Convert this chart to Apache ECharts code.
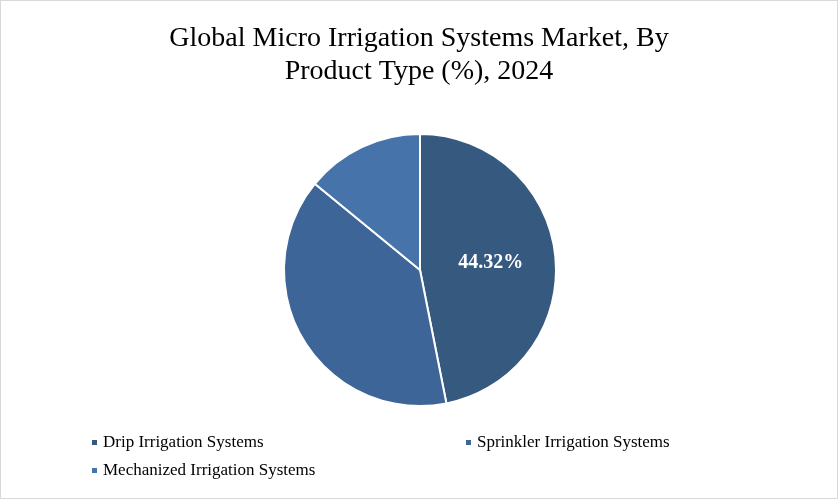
<!DOCTYPE html>
<html><head><meta charset="utf-8">
<script src="https://cdn.jsdelivr.net/npm/echarts@6/dist/echarts.min.js"></script>
<style>html,body{margin:0;padding:0;background:#fff}#c{width:836px;height:497px;border:1px solid #d9d9d9}</style>
</head><body><div id="c"></div>
<script>
const categories = ["Drip Irrigation Systems","Sprinkler Irrigation Systems","Mechanized Irrigation Systems"];
const values = [44.32, 36.9, 13.3];
const colors = ["#36597f","#3e6598","#4674aa"];
const shownLabels = ["44.32%","",""];
const chart = echarts.init(document.getElementById('c'));
const font = '"Liberation Serif","DejaVu Serif",serif';
const legPos = [[84,428],[458,428],[84,456]];
chart.setOption({
  title:{text:"Global Micro Irrigation Systems Market, By\nProduct Type (%), 2024",left:'center',top:16,
    textStyle:{fontFamily:font,fontSize:28,fontWeight:'normal',color:'#000',lineHeight:33}},
  legend:categories.map((n,i)=>({data:[n],left:legPos[i][0],top:legPos[i][1],itemWidth:7,itemHeight:7,icon:'rect',
    textStyle:{fontFamily:font,fontSize:17,color:'#000'}})),
  series:[{type:'pie',center:[419,269],radius:136,startAngle:90,clockwise:true,
    data:categories.map((n,i)=>({name:n,value:values[i],itemStyle:{color:colors[i]},
      label:{show:!!shownLabels[i],formatter:shownLabels[i]}})),
    itemStyle:{borderColor:'#fff',borderWidth:2},
    label:{position:'inside',fontFamily:font,fontSize:20,fontWeight:'bold',color:'#fff'},
    labelLine:{show:false},emphasis:{disabled:true}}]
});
</script></body></html>
